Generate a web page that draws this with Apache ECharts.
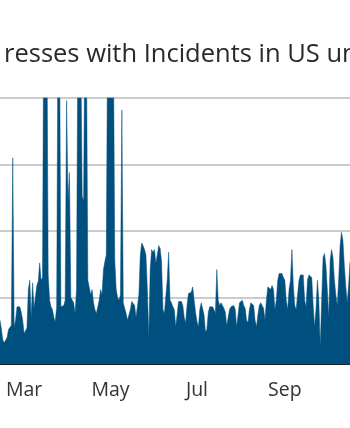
<!DOCTYPE html>
<html>
<head>
<meta charset="utf-8">
<script src="https://cdn.jsdelivr.net/npm/echarts@6/dist/echarts.min.js"></script>
<style>
  html, body { margin: 0; padding: 0; background: #ffffff; overflow: hidden; }
  #chart { width: 350px; height: 428px; }
</style>
</head>
<body>
<div id="chart"></div>
<script>
// Daily series, starting on the first date below
const startDate = '2021-02-12';
const titleText = 'resses with Incidents in US un';
const tickMonths = ['Mar', 'May', 'Jul', 'Sep'];
const monthNames = ['Jan', 'Feb', 'Mar', 'Apr', 'May', 'Jun', 'Jul', 'Aug', 'Sep', 'Oct', 'Nov', 'Dec'];

// Addresses with incidents per day
const incidents = [
  33, 26, 18, 16, 16, 20, 26, 25, 29, 155,
  28, 33, 43, 44, 43, 39, 33, 23, 22, 27,
  56, 63, 35, 61, 42, 41, 59, 62, 76, 63,
  65, 300, 320, 280, 67, 48, 43, 41, 35, 32,
  43, 280, 260, 43, 42, 44, 48, 198, 123, 144,
  50, 48, 46, 38, 56, 260, 300, 240, 126, 123,
  270, 240, 63, 63, 52, 56, 46, 41, 38, 38,
  48, 56, 52, 71, 77, 82, 260, 300, 280, 320,
  250, 78, 56, 50, 48, 52, 191, 46, 42, 38,
  33, 32, 41, 47, 47, 44, 35, 35, 52, 82,
  91, 89, 86, 82, 56, 20, 71, 86, 84, 86,
  76, 82, 89, 87, 77, 41, 38, 37, 63, 84,
  48, 46, 43, 41, 28, 37, 47, 48, 47, 44,
  35, 31, 44, 53, 52, 54, 58, 48, 39, 32,
  28, 41, 46, 46, 37, 24, 26, 39, 43, 44,
  43, 41, 38, 71, 48, 44, 46, 44, 42, 39,
  29, 29, 41, 43, 43, 44, 41, 28, 37, 46,
  47, 48, 44, 42, 33, 31, 41, 46, 47, 44,
  33, 28, 37, 44, 46, 47, 42, 33, 48, 58,
  59, 56, 59, 56, 41, 48, 63, 68, 67, 68,
  65, 63, 48, 41, 56, 63, 86, 59, 44, 41,
  52, 63, 67, 68, 67, 48, 43, 63, 67, 68,
  65, 44, 28, 41, 63, 48, 13, 48, 80, 83,
  74, 56, 35, 78, 86, 80, 63, 52, 44, 63,
  89, 99, 93, 74, 59, 46, 59, 77
];

// One category per day
const days = [];
{
  const d0 = new Date(startDate + 'T00:00:00Z');
  for (let i = 0; i < incidents.length; i++) {
    const d = new Date(d0.getTime() + i * 86400000);
    days.push(d.toISOString().slice(0, 10));
  }
}

function tickLabel(value) {
  const month = monthNames[parseInt(value.slice(5, 7), 10) - 1];
  return value.slice(8, 10) === '01' && tickMonths.indexOf(month) >= 0 ? month : '';
}

const chart = echarts.init(document.getElementById('chart'), null, { renderer: 'canvas' });
chart.setOption({
  animation: false,
  backgroundColor: '#ffffff',
  textStyle: { fontFamily: 'Open Sans' },
  title: {
    text: titleText,
    left: -1,
    top: 37,
    textStyle: {
      fontFamily: 'Open Sans',
      fontSize: 25.5,
      fontWeight: 'normal',
      color: '#2a2a2a'
    }
  },
  grid: { left: 0, right: 0, top: 98, bottom: 64, containLabel: false },
  xAxis: {
    type: 'category',
    data: days,
    boundaryGap: false,
    axisLine: { show: true, lineStyle: { color: '#222222', width: 2 } },
    axisTick: { show: false },
    splitLine: { show: false },
    axisLabel: {
      interval: function (idx, value) { return tickLabel(value) !== ''; },
      formatter: tickLabel,
      fontFamily: 'Open Sans',
      fontSize: 19.5,
      color: '#333333',
      margin: 16
    }
  },
  yAxis: {
    type: 'value',
    min: 0,
    max: 200,
    interval: 50,
    axisLine: { show: false },
    axisTick: { show: false },
    axisLabel: { show: false },
    splitLine: { show: true, lineStyle: { color: '#cccccc', width: 2 } }
  },
  series: [{
    type: 'line',
    data: incidents,
    showSymbol: false,
    clip: true,
    lineStyle: { width: 0.5, color: '#00507f' },
    areaStyle: { color: '#00507f', opacity: 1 }
  }]
});
</script>
</body>
</html>
